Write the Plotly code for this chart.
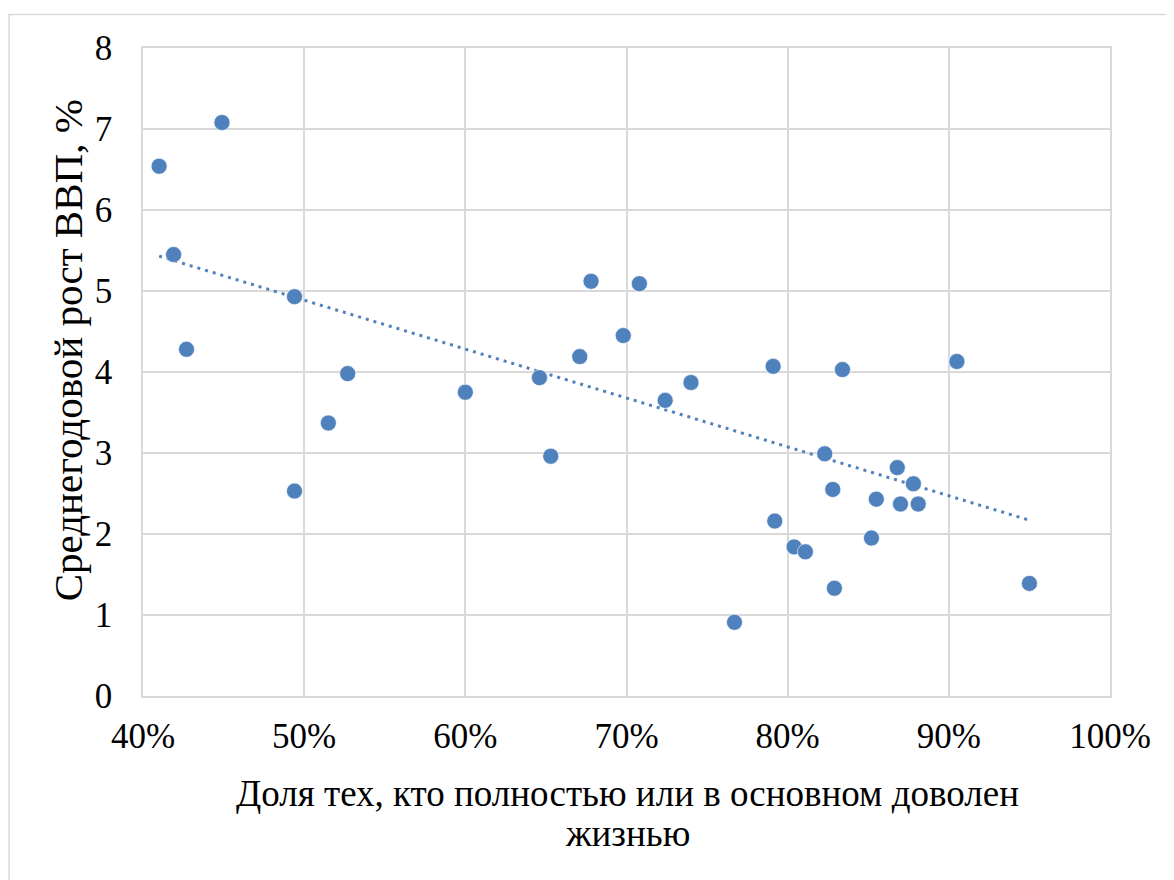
import plotly.graph_objects as go

# Share of people fully or mostly satisfied with life (fraction)
satisfaction = [0.410, 0.449, 0.419, 0.427, 0.494, 0.494, 0.515, 0.527, 0.600, 0.646,
                0.653, 0.671, 0.678, 0.698, 0.708, 0.724, 0.740, 0.767, 0.791, 0.792,
                0.804, 0.811, 0.823, 0.828, 0.829, 0.834, 0.852, 0.855, 0.868, 0.870,
                0.878, 0.881, 0.905, 0.950]
# Average annual GDP growth, %
gdp_growth = [6.54, 7.08, 5.45, 4.28, 4.93, 2.53, 3.37, 3.98, 3.75, 3.93,
              2.96, 4.19, 5.12, 4.45, 5.09, 3.65, 3.87, 0.91, 4.07, 2.16,
              1.84, 1.78, 2.99, 2.55, 1.33, 4.03, 1.95, 2.43, 2.82, 2.37,
              2.62, 2.37, 4.13, 1.39]
# Linear trendline values (at the first and last x)
trend_values = [5.43, 2.17]

x_ticks = [0.4, 0.5, 0.6, 0.7, 0.8, 0.9, 1.0]
x_tick_labels = ["40%", "50%", "60%", "70%", "80%", "90%", "100%"]
y_ticks = [0, 1, 2, 3, 4, 5, 6, 7, 8]

x_title_line1 = "Доля тех, кто полностью или в основном доволен"
x_title_line2 = "жизнью"
y_title = "Среднегодовой рост ВВП, %"

trend_x = [min(satisfaction), max(satisfaction)]

COLOR = "#4F81BD"
FONT = "Liberation Serif, Times New Roman, serif"
GRID = "#D9D9D9"

fig = go.Figure()
fig.add_trace(go.Scatter(
    x=trend_x, y=trend_values, mode="lines",
    line=dict(color=COLOR, width=3, dash="3px,5px"),
    hoverinfo="skip", showlegend=False,
))
fig.add_trace(go.Scatter(
    x=satisfaction, y=gdp_growth, mode="markers",
    marker=dict(color=COLOR, size=16, line=dict(color="white", width=0.6)),
    showlegend=False,
))

W, H = 1174, 880
OFF = 8  # page body margin
L, R, T, B = 135, 72, 39.5, 192
pw = W - L - R
ph = H - T - B

def px_x(p):  # screen px -> paper
    return (p - OFF - L) / pw

def px_y(p):
    return (H - B - (p - OFF)) / ph

fig.update_layout(
    width=W, height=H,
    margin=dict(l=L, r=R, t=T, b=B, pad=0),
    paper_bgcolor="white", plot_bgcolor="white",
    font=dict(family=FONT, size=35, color="black"),
    xaxis=dict(
        range=[0.4, 1.0], tickvals=x_ticks, ticktext=x_tick_labels,
        showgrid=True, gridcolor=GRID, gridwidth=1.5,
        showline=True, linecolor=GRID, linewidth=1.5, mirror=True,
        zeroline=False, ticks="", ticklabelstandoff=8,
        tickfont=dict(family=FONT, size=35, color="black"),
    ),
    yaxis=dict(
        range=[0, 8], tickvals=y_ticks,
        showgrid=True, gridcolor=GRID, gridwidth=1.5,
        showline=True, linecolor=GRID, linewidth=1.5, mirror=True,
        zeroline=False, ticks="", ticklabelstandoff=22,
        tickfont=dict(family=FONT, size=35, color="black"),
    ),
    shapes=[dict(
        type="rect", xref="paper", yref="paper",
        x0=px_x(9), x1=px_x(1200), y0=px_y(920), y1=px_y(14),
        line=dict(color=GRID, width=1.5), fillcolor="rgba(0,0,0,0)", layer="below",
    )],
    annotations=[
        dict(text=x_title_line1, xref="paper", yref="paper",
             x=px_x(627), y=px_y(794), xanchor="center", yanchor="middle",
             showarrow=False, font=dict(family=FONT, size=37, color="black")),
        dict(text=x_title_line2, xref="paper", yref="paper",
             x=px_x(627), y=px_y(834), xanchor="center", yanchor="middle",
             showarrow=False, font=dict(family=FONT, size=37, color="black")),
        dict(text=y_title, xref="paper", yref="paper", textangle=-90,
             x=px_x(68), y=px_y(350), xanchor="center", yanchor="middle",
             showarrow=False, font=dict(family=FONT, size=41, color="black")),
    ],
)

fig.write_html("out.html")
